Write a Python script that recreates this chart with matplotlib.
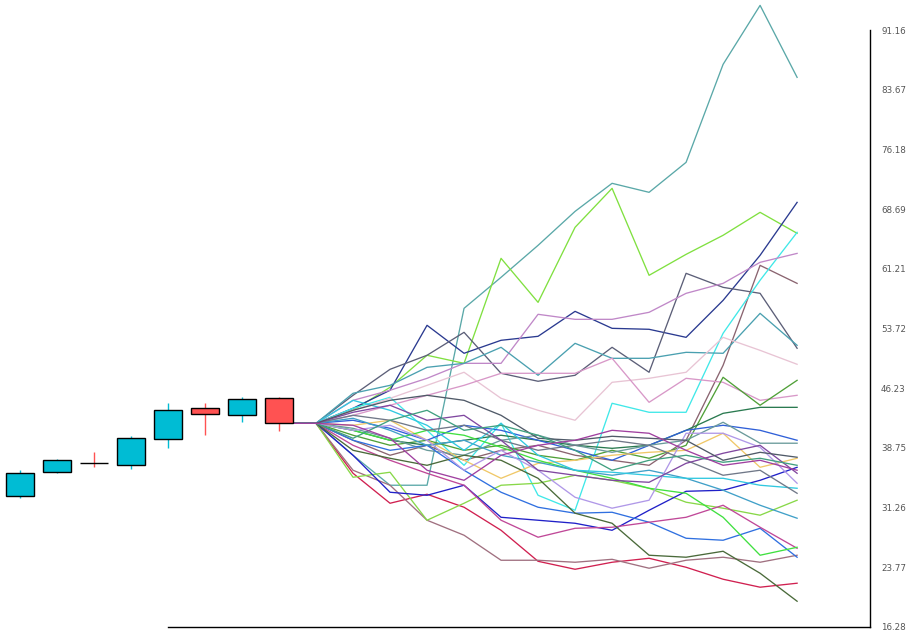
import matplotlib
matplotlib.use("Agg")
import matplotlib.pyplot as plt
import numpy as np

# candles (8 sessions)
opens = [32.67, 35.68, 36.85, 36.56, 39.82, 43.71, 42.83, 44.97]
closes = [35.56, 37.19, 36.80, 39.95, 43.46, 42.96, 44.84, 41.83]
highs = [35.97, 37.39, 38.27, 40.24, 44.42, 44.42, 45.17, 45.17]
lows = [32.46, 35.60, 36.39, 36.14, 38.77, 40.36, 41.99, 40.90]

# simulated paths, 14 steps each after the last candle
walks = [
    [41.83, 37.82, 34.06, 34.06, 56.25, 60.14, 64.15, 68.41, 71.93, 70.80, 74.56, 86.85, 94.25, 85.22],
    [41.83, 43.46, 46.34, 50.36, 49.35, 62.52, 57.00, 66.41, 71.30, 60.39, 63.02, 65.41, 68.29, 65.66],
    [41.83, 43.71, 45.97, 54.12, 50.61, 52.24, 52.74, 55.87, 53.74, 53.62, 52.61, 57.25, 62.90, 69.54],
    [41.83, 45.34, 48.60, 50.36, 53.24, 48.10, 47.10, 47.85, 51.36, 48.23, 60.64, 58.88, 58.13, 51.24],
    [41.83, 39.70, 37.82, 39.07, 37.19, 38.44, 39.07, 37.82, 37.19, 36.56, 39.70, 49.10, 61.64, 59.38],
    [41.83, 43.71, 45.09, 40.95, 36.56, 41.83, 32.80, 30.92, 44.34, 43.21, 43.21, 53.12, 59.77, 65.78],
    [41.83, 44.71, 45.97, 47.47, 49.35, 49.35, 55.50, 54.87, 54.87, 55.75, 58.13, 59.38, 62.02, 63.14],
    [41.83, 45.59, 46.59, 48.85, 49.35, 51.36, 47.85, 51.86, 49.98, 49.98, 50.73, 50.61, 55.62, 51.61],
    [41.83, 43.46, 44.96, 46.59, 48.23, 44.96, 43.46, 42.21, 46.97, 47.47, 48.23, 52.61, 50.98, 49.23],
    [41.83, 42.83, 44.09, 45.34, 46.59, 48.10, 48.10, 48.10, 49.98, 44.46, 47.47, 46.97, 44.71, 45.34],
    [41.83, 40.33, 39.07, 39.70, 38.44, 39.07, 37.82, 37.19, 38.44, 37.44, 39.07, 47.60, 44.09, 47.22],
    [41.83, 40.95, 39.70, 39.07, 39.70, 40.33, 39.70, 39.07, 38.69, 39.07, 40.95, 43.08, 43.83, 43.83],
    [41.83, 42.21, 41.20, 39.70, 41.58, 40.95, 39.70, 38.44, 37.19, 39.07, 40.95, 41.58, 40.95, 39.70],
    [41.83, 41.20, 39.95, 38.44, 37.82, 39.70, 40.33, 39.07, 38.19, 39.07, 39.70, 41.96, 39.33, 39.33],
    [41.83, 41.58, 42.21, 39.70, 37.19, 34.93, 36.81, 37.19, 37.82, 38.19, 38.44, 40.58, 36.31, 37.44],
    [41.83, 35.56, 31.80, 32.93, 31.30, 28.41, 24.52, 23.52, 24.40, 24.90, 23.77, 22.27, 21.27, 21.77],
    [41.83, 35.94, 34.06, 29.67, 27.79, 24.65, 24.65, 24.40, 24.77, 23.65, 24.65, 25.03, 24.40, 25.28],
    [41.83, 35.06, 35.69, 29.67, 31.80, 34.06, 34.31, 35.31, 34.68, 33.68, 31.93, 31.18, 30.30, 32.18],
    [41.83, 37.82, 33.18, 32.80, 34.06, 30.04, 29.67, 29.29, 28.41, 30.92, 33.30, 33.43, 34.68, 36.31],
    [41.83, 39.70, 38.44, 39.07, 35.94, 33.18, 31.30, 30.55, 30.67, 29.42, 27.41, 27.16, 28.66, 25.03],
    [41.83, 39.07, 37.19, 35.56, 34.06, 29.67, 27.54, 28.66, 28.79, 29.42, 30.04, 31.55, 28.79, 26.15],
    [41.83, 40.95, 39.70, 40.95, 40.33, 38.82, 37.19, 35.94, 34.93, 33.68, 33.05, 30.04, 25.28, 26.28],
    [41.83, 38.44, 37.44, 36.56, 37.82, 37.19, 34.93, 30.55, 29.29, 25.28, 25.03, 25.78, 23.02, 19.51],
    [41.83, 42.46, 40.95, 39.07, 39.70, 37.82, 36.94, 35.94, 35.31, 35.94, 34.93, 33.43, 31.55, 29.92],
    [41.83, 44.71, 43.46, 41.58, 38.44, 41.83, 37.82, 35.94, 35.69, 35.31, 34.93, 34.93, 34.06, 33.68],
    [41.83, 40.95, 41.58, 39.70, 35.94, 38.44, 35.94, 32.55, 31.18, 32.18, 40.58, 40.58, 38.82, 34.31],
    [41.83, 42.83, 42.21, 40.95, 41.58, 39.70, 38.44, 39.07, 39.70, 39.07, 37.19, 35.31, 35.94, 33.05],
    [41.83, 43.21, 44.09, 42.21, 42.83, 39.70, 35.94, 35.31, 34.68, 34.43, 36.81, 38.07, 39.07, 35.56],
    [41.83, 43.46, 44.71, 45.34, 44.71, 42.83, 39.95, 39.70, 40.20, 39.95, 39.70, 37.19, 38.19, 37.57],
    [41.83, 39.95, 42.21, 43.46, 40.95, 41.58, 40.33, 38.44, 35.94, 37.19, 37.82, 36.94, 37.44, 36.56],
    [41.83, 41.58, 39.95, 35.94, 34.68, 37.82, 39.07, 39.70, 40.95, 40.58, 38.44, 36.56, 37.19, 35.94],
]
walk_colors = [
    "#5aa8a8", "#80e040", "#2a3a90", "#5c5f78", "#8a6470", "#40e8e8", "#c088c8",
    "#4aa0b0", "#e8c4d4", "#d898c8", "#50a038", "#2a7a50", "#3060d8", "#6a9a9a",
    "#f0c868", "#d02050", "#a07080", "#88d848", "#2020c8", "#3070e0", "#c04898",
    "#40e040", "#4a6a3a", "#40a0c8", "#30c8e0", "#b098e8", "#707888", "#8048a0",
    "#505a68", "#40a080", "#a040a0",
]

y_ticks = np.linspace(16.28, 91.16, 11)
y_labels = ["16.28", "23.77", "31.26", "38.75", "46.23", "53.72",
            "61.21", "68.69", "76.18", "83.67", "91.16"]

fig = plt.figure(figsize=(9.21, 6.33), dpi=100)
ax = fig.add_axes([0.0, 0.0095, 870 / 921, 0.9431])

n_candles = len(opens)
for i in range(n_candles):
    up = closes[i] > opens[i]
    col = "#00bcd4" if up else "#ff5252"
    ax.vlines(i, lows[i], highs[i], color=col, lw=1.0, zorder=3)
    lo = min(opens[i], closes[i])
    h = abs(closes[i] - opens[i])
    if h < 0.1:
        ax.hlines(closes[i], i - 0.38, i + 0.38, color="black", lw=1.0, zorder=4)
    else:
        ax.bar(i, h, bottom=lo, width=0.76, color=col, edgecolor="black",
               linewidth=1.0, zorder=4)

x_walk = np.arange(n_candles - 1, n_candles - 1 + len(walks[0]) + 1)
for vals, c in zip(walks, walk_colors):
    ax.plot(x_walk, [closes[-1]] + vals, color=c, lw=0.95, zorder=2, clip_on=False)

ax.set_xlim(-0.54, 22.97)
ax.set_ylim(y_ticks[0], y_ticks[-1])
ax.yaxis.tick_right()
ax.set_yticks(y_ticks)
ax.set_yticklabels(y_labels, fontsize=6.3, color="#555555")
ax.tick_params(axis="y", length=0, pad=8)
ax.set_xticks([])
ax.spines["left"].set_visible(False)
ax.spines["top"].set_visible(False)
ax.spines["bottom"].set_bounds(4, 22.97)
ax.spines["right"].set_linewidth(1.0)
ax.spines["bottom"].set_linewidth(1.0)

fig.savefig("out.png", dpi=100)
